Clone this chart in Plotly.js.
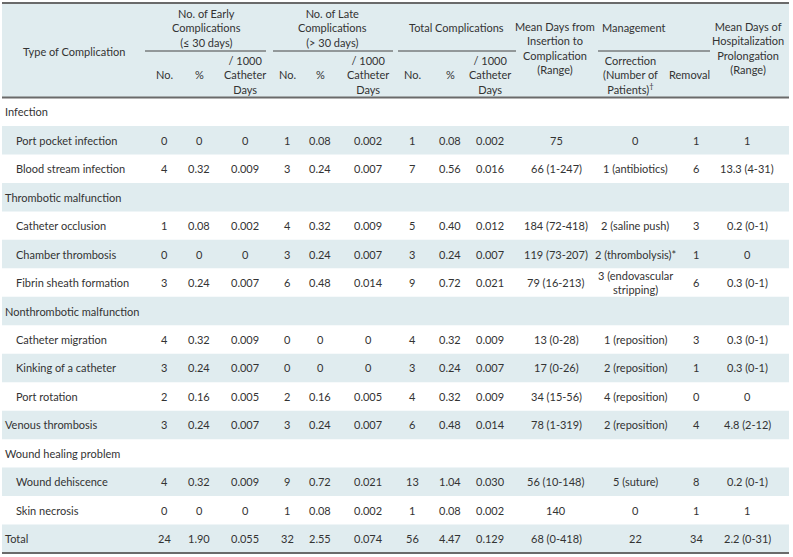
<!DOCTYPE html>
<html><head><meta charset="utf-8">
<script src="https://cdn.plot.ly/plotly-3.0.1.min.js"></script>
<style>html,body{margin:0;padding:0;background:#fff}#chart{width:793px;height:557px}</style>
</head><body><div id="chart"></div>
<script>
// ---- data ----
const rowLabels = ["Infection","Port pocket infection","Blood stream infection","Thrombotic malfunction","Catheter occlusion","Chamber thrombosis","Fibrin sheath formation","Nonthrombotic malfunction","Catheter migration","Kinking of a catheter","Port rotation","Venous thrombosis","Wound healing problem","Wound dehiscence","Skin necrosis","Total"];
const rowIndent = [0,1,1,0,1,1,1,0,1,1,1,0,0,1,1,0];
const earlyNo  = ["","0","4","","1","0","3","","4","3","2","3","","4","0","24"];
const earlyPct = ["","0","0.32","","0.08","0","0.24","","0.32","0.24","0.16","0.24","","0.32","0","1.90"];
const earlyPer = ["","0","0.009","","0.002","0","0.007","","0.009","0.007","0.005","0.007","","0.009","0","0.055"];
const lateNo   = ["","1","3","","4","3","6","","0","0","2","3","","9","1","32"];
const latePct  = ["","0.08","0.24","","0.32","0.24","0.48","","0","0","0.16","0.24","","0.72","0.08","2.55"];
const latePer  = ["","0.002","0.007","","0.009","0.007","0.014","","0","0","0.005","0.007","","0.021","0.002","0.074"];
const totNo    = ["","1","7","","5","3","9","","4","3","4","6","","13","1","56"];
const totPct   = ["","0.08","0.56","","0.40","0.24","0.72","","0.32","0.24","0.32","0.48","","1.04","0.08","4.47"];
const totPer   = ["","0.002","0.016","","0.012","0.007","0.021","","0.009","0.007","0.009","0.014","","0.030","0.002","0.129"];
const meanDays = ["","75","66 (1-247)","","184 (72-418)","119 (73-207)","79 (16-213)","","13 (0-28)","17 (0-26)","34 (15-56)","78 (1-319)","","56 (10-148)","140","68 (0-418)"];
const correction = ["","0","1 (antibiotics)","","2 (saline push)","2 (thrombolysis)*","3 (endovascular<br>stripping)","","1 (reposition)","2 (reposition)","4 (reposition)","2 (reposition)","","5 (suture)","0","22"];
const removal  = ["","1","6","","3","1","6","","3","1","0","4","","8","1","34"];
const hospDays = ["","1","13.3 (4-31)","","0.2 (0-1)","0","0.3 (0-1)","","0.3 (0-1)","0.3 (0-1)","0","4.8 (2-12)","","0.2 (0-1)","1","2.2 (0-31)"];

const groupHeaders = ["No. of Early<br>Complications<br>(≤ 30 days)","No. of Late<br>Complications<br>(> 30 days)","Total Complications","Management"];
const subHeaders = ["No.","%","/ 1000<br>Catheter<br>Days","No.","%","/ 1000<br>Catheter<br>Days","No.","%","/ 1000<br>Catheter<br>Days","Correction<br>(Number of<br>Patients)<sup>†</sup>","Removal"];
const spanHeaders = ["Type of Complication","Mean Days from<br>Insertion to<br>Complication<br>(Range)","Mean Days of<br>Hospitalization<br>Prolongation<br>(Range)"];

// ---- layout constants ----
const FONT = {family:"Lato, 'Open Sans', sans-serif", size:11, color:"#333333"};
const BAND = "#e0ecef";
const LINE = "#6a6a6a";
const X0 = 2, X1 = 789;
const HEAD_TOP = 3, HEAD_BOT = 97.5, BODY_BOT = 553;
const nRows = rowLabels.length;
const rowH = (BODY_BOT - HEAD_BOT) / nRows;
const rowY = i => HEAD_BOT + rowH * (i + 0.5);

const columns = [earlyNo, earlyPct, earlyPer, lateNo, latePct, latePer, totNo, totPct, totPer, meanDays, correction, removal, hospDays];
const colX = [164, 199, 245, 287, 320, 368, 412, 450, 490, 556, 635, 696, 747];

const shapes = [];
const annotations = [];
function ann(x, y, text, extra) {
  annotations.push(Object.assign({x:x, y:y, xref:"x", yref:"y", text:text, showarrow:false,
    font:FONT, xanchor:"center", yanchor:"middle", align:"center"}, extra || {}));
}
function hline(y, xa, xb, w, col) {
  shapes.push({type:"line", xref:"x", yref:"y", x0:xa, x1:xb, y0:y, y1:y, line:{color:col || LINE, width:w}});
}

// header background
shapes.push({type:"rect", xref:"x", yref:"y", x0:X0, x1:X1, y0:HEAD_TOP, y1:HEAD_BOT, fillcolor:BAND, line:{width:0}, layer:"below"});
// row bands
for (let i = 0; i < nRows; i++) {
  if (i % 2 === 1) {
    shapes.push({type:"rect", xref:"x", yref:"y", x0:X0, x1:X1, y0:HEAD_BOT + rowH*i, y1:HEAD_BOT + rowH*(i+1), fillcolor:BAND, line:{width:0}, layer:"below"});
  }
}
// rules
hline(HEAD_TOP, X0, X1, 1.8);
hline(HEAD_BOT, X0, X1, 1.8);
hline(BODY_BOT, X0, X1, 1.8);
hline(51, 145, 266, 1, "#444444");
hline(51, 273, 393, 1, "#444444");
hline(51, 398, 516, 1, "#444444");
hline(51, 598, 710, 1, "#444444");

// header text
ann(74, 51, spanHeaders[0]);
ann(555, 48, spanHeaders[1]);
ann(748, 48, spanHeaders[2]);
ann(206, 27.5, groupHeaders[0]);
ann(332, 27.5, groupHeaders[1]);
ann(456, 27, groupHeaders[2]);
ann(633, 27, groupHeaders[3]);
const subX = [164, 199, 245, 287, 320, 368, 412, 450, 490, 630, 689];
subHeaders.forEach((t, k) => ann(subX[k], t.indexOf("<br>") >= 0 ? 74.5 : 74, t));

// body
for (let i = 0; i < nRows; i++) {
  ann(rowIndent[i] ? 14 : 3, rowY(i), rowLabels[i], {xanchor:"left", align:"left"});
  columns.forEach((col, c) => { if (col[i] !== "") ann(colX[c], rowY(i), col[i]); });
}

const layout = {
  width:793, height:557, margin:{l:0, r:0, t:0, b:0},
  paper_bgcolor:"#ffffff", plot_bgcolor:"#ffffff", showlegend:false,
  xaxis:{range:[0,793], visible:false, fixedrange:true},
  yaxis:{range:[557,0], visible:false, fixedrange:true},
  shapes:shapes, annotations:annotations
};
Plotly.newPlot("chart", [{type:"scatter", x:[], y:[], hoverinfo:"skip"}], layout, {displayModeBar:false, staticPlot:true});
</script></body></html>
